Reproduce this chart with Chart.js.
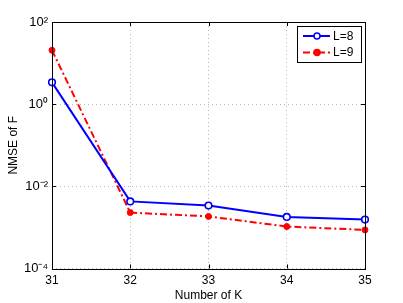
<!DOCTYPE html>
<html><head><meta charset="utf-8">
<script src="https://cdn.jsdelivr.net/npm/chart.js@4/dist/chart.umd.min.js"></script>
<style>html,body{margin:0;padding:0;background:#fff}#c{display:block}</style>
</head><body>
<canvas id="c" width="403" height="303"></canvas>
<script>
const categories = ['31', '32', '33', '34', '35'];
const seriesL8 = [3.4, 0.0043, 0.0034, 0.0018, 0.00155];
const seriesL9 = [20.5, 0.0023, 0.00185, 0.00105, 0.00087];
const yTickValues = [1e-4, 1e-2, 1, 1e2];
const yTickLabels = ['10⁻⁴', '10⁻²', '10⁰', '10²'];
const seriesNames = ['L=8', 'L=9'];

const FONT = '"Liberation Sans", Arial, sans-serif';

const boxPlugin = {
  id: 'box',
  afterDatasetsDraw(chart) {
    const {ctx, chartArea: a, scales} = chart;
    ctx.save();
    ctx.strokeStyle = '#000';
    ctx.lineWidth = 1;
    ctx.strokeRect(Math.round(a.left) + 0.5, Math.round(a.top) + 0.5, Math.round(a.right - a.left), Math.round(a.bottom - a.top));
    ctx.beginPath();
    scales.x.ticks.forEach((t, i) => {
      const x = Math.round(scales.x.getPixelForTick(i)) + 0.5;
      ctx.moveTo(x, a.bottom); ctx.lineTo(x, a.bottom - 4);
      ctx.moveTo(x, a.top); ctx.lineTo(x, a.top + 4);
    });
    yTickValues.forEach(v => {
      const y = Math.round(scales.y.getPixelForValue(v)) + 0.5;
      ctx.moveTo(a.left, y); ctx.lineTo(a.left + 4, y);
      ctx.moveTo(a.right, y); ctx.lineTo(a.right - 4, y);
    });
    ctx.stroke();
    const lx = a.right - 68, ly = a.top + 4, lw = 64, lh = 36;
    ctx.fillStyle = '#fff';
    ctx.fillRect(lx, ly, lw, lh);
    ctx.strokeStyle = '#000';
    ctx.strokeRect(Math.round(lx) + 0.5, Math.round(ly) + 0.5, lw, lh);
    chart.data.datasets.forEach((ds, i) => {
      const y = ly + 10 + i * 16.6;
      ctx.strokeStyle = ds.borderColor;
      ctx.lineWidth = 2;
      ctx.setLineDash(ds.borderDash || []);
      ctx.beginPath(); ctx.moveTo(lx + 6, y); ctx.lineTo(lx + 33, y); ctx.stroke();
      ctx.setLineDash([]);
      ctx.beginPath(); ctx.arc(lx + 20, y, 3, 0, Math.PI * 2);
      ctx.fillStyle = ds.pointBackgroundColor;
      ctx.fill();
      ctx.lineWidth = 1.5; ctx.strokeStyle = ds.pointBorderColor; ctx.stroke();
      ctx.fillStyle = '#000';
      ctx.font = '12px ' + FONT;
      ctx.textBaseline = 'middle';
      ctx.fillText(seriesNames[i], lx + 36, y + 0.5);
    });
    ctx.restore();
  }
};

new Chart(document.getElementById('c'), {
  type: 'line',
  data: {
    labels: categories,
    datasets: [
      {
        label: seriesNames[0], data: seriesL8,
        borderColor: '#0000ff', borderWidth: 2,
        pointRadius: 3.3, pointBorderWidth: 1.6,
        pointBackgroundColor: '#ffffff', pointBorderColor: '#0000ff',
        tension: 0
      },
      {
        label: seriesNames[1], data: seriesL9,
        borderColor: '#ff0000', borderWidth: 2, borderDash: [7, 3, 2, 3],
        pointRadius: 3, pointBorderWidth: 1,
        pointBackgroundColor: '#ff0000', pointBorderColor: '#ff0000',
        tension: 0
      }
    ]
  },
  options: {
    responsive: false, animation: false,
    layout: {padding: {left: 0, top: 22, right: 38, bottom: 0}},
    plugins: {legend: {display: false}, tooltip: {enabled: false}},
    scales: {
      x: {
        type: 'category', offset: false,
        grid: {offset: false, color: '#b8b8b8', drawTicks: false, lineWidth: 1},
        border: {display: false, dash: [1, 3]},
        ticks: {padding: 5, color: '#000', font: {family: FONT, size: 12}},
        title: {display: true, text: 'Number of K', color: '#000', font: {family: FONT, size: 12}, padding: {top: 0, bottom: 0}},
        afterFit(s) { s.height = 34.5; }
      },
      y: {
        type: 'logarithmic', min: 1e-4, max: 1e2,
        afterBuildTicks(s) { s.ticks = yTickValues.map(v => ({value: v})); },
        grid: {color: '#b8b8b8', drawTicks: false, lineWidth: 1},
        border: {display: false, dash: [1, 3]},
        ticks: {
          padding: 4, color: '#000', font: {family: FONT, size: 13},
          callback(v) { const i = yTickValues.indexOf(v); return i >= 0 ? yTickLabels[i] : ''; }
        },
        title: {display: true, text: 'NMSE of F', color: '#000', font: {family: FONT, size: 12}, padding: {top: 6, bottom: 0}},
        afterFit(s) { s.width = 52; }
      }
    }
  },
  plugins: [boxPlugin]
});
</script>
</body></html>
